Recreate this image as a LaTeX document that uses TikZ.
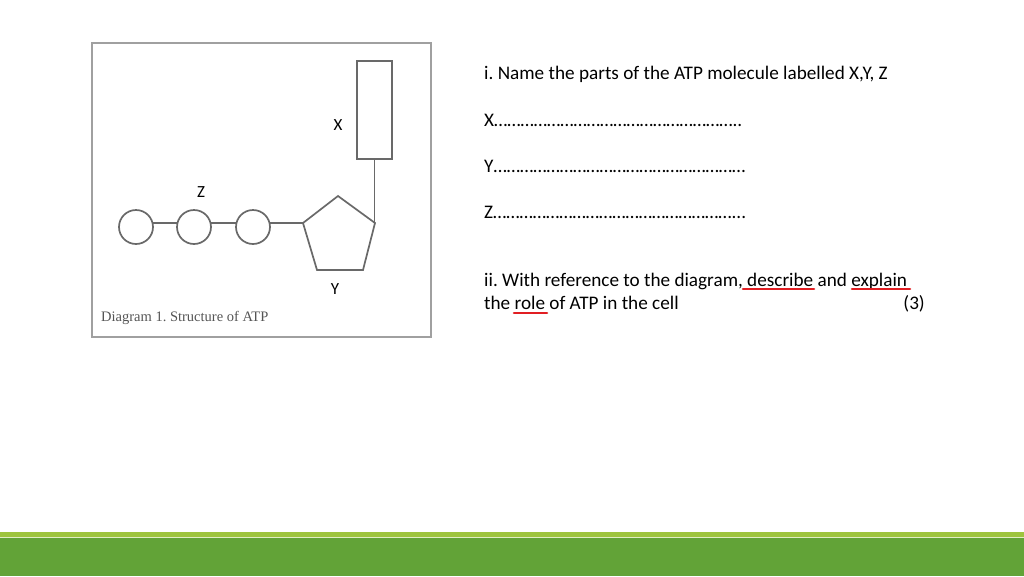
\documentclass[tikz,border=0pt]{standalone}
\usepackage{fontspec}
\setmainfont{Carlito}
\newfontfamily\capfont{Liberation Serif}
\frenchspacing
\definecolor{linegray}{RGB}{105,105,105}
\definecolor{framegray}{RGB}{160,160,160}
\definecolor{capgray}{RGB}{85,85,85}
\definecolor{ulred}{RGB}{225,30,35}
\definecolor{lightgreen}{RGB}{158,196,62}
\definecolor{darkgreen}{RGB}{98,163,55}
\newcommand\ellrun[1]{\foreach \k in {1,...,#1}{…}}
\begin{document}
\begin{tikzpicture}[x=1pt,y=-1pt,
  mol/.style={draw=linegray,line width=1.7pt},
  ball/.style={circle,draw=linegray,line width=1.7pt,minimum size=34pt,inner sep=0pt},
  lab/.style={font=\fontsize{17}{20}\selectfont,inner sep=0pt},
  qtext/.style={font=\fontsize{19.2}{22}\selectfont,inner sep=0pt,anchor=base west},
  ul/.style={draw=ulred,line width=2.6pt,line cap=round}]
\useasboundingbox (0,0) rectangle (1024,576);
\fill[white] (0,0) rectangle (1024,576);
% green band
\fill[lightgreen] (0,532) rectangle (1024,537);
\fill[white!70!lightgreen] (0,537) rectangle (1024,538);
\fill[darkgreen] (0,538) rectangle (1024,576);
% diagram frame
\draw[framegray,line width=2pt] (92,43) rectangle (431,337);
% molecule
\node[mol,minimum width=35pt,minimum height=98pt,inner sep=0pt] (xr) at (374.5,110) {};
\coordinate (pT) at (338,196);
\coordinate (pR) at (375,223);
\coordinate (pBR) at (363,270);
\coordinate (pBL) at (317,270);
\coordinate (pL) at (303,223);
\draw[mol,line join=miter] (pT) -- (pR) -- (pBR) -- (pBL) -- (pL) -- cycle;
\node[ball] (c1) at (136,227) {};
\node[ball] (c2) at (194,227) {};
\node[ball] (c3) at (253,227) {};
\draw[mol] (c1.14) -- (c2.166);
\draw[mol] (c2.14) -- (c3.166);
\draw[mol] (c3.14) -- (c3.14 -| pL);
\draw[mol] (xr.south) -- (xr.south |- pR);
\node[lab] (lx) at (338,125) {X};
\node[lab] (lz) at (201,192) {Z};
\node[lab] (ly) at (335,289) {Y};
\node[font=\capfont\fontsize{14.5}{17}\selectfont,text=capgray,inner sep=0pt,anchor=base west] (cap) at (101,321) {Diagram 1. Structure of ATP};
% questions
\node[qtext] (q1) at (484,79) {i. Name the parts of the ATP molecule labelled X,Y, Z};
\node[qtext] (qx) at (484,126) {X\ellrun{18}..};
\node[qtext] (qy) at (484,172) {Y\ellrun{19}};
\node[qtext] (qz) at (484,218) {Z\ellrun{18}...};
\node[qtext] (q2) at (484,286) {ii. With reference to the diagram, describe and explain};
\node[qtext] (q3) at (484,309) {the role of ATP in the cell};
\node[font=\fontsize{19.2}{22}\selectfont,inner sep=0pt,anchor=base east] (mk) at (925,309) {(3)};
% red underlines
\draw[ul] (743,289) -- (814,289);
\draw[ul] (852,289) -- (910,289);
\draw[ul] (514,313) -- (547,313);
\end{tikzpicture}
\end{document}
